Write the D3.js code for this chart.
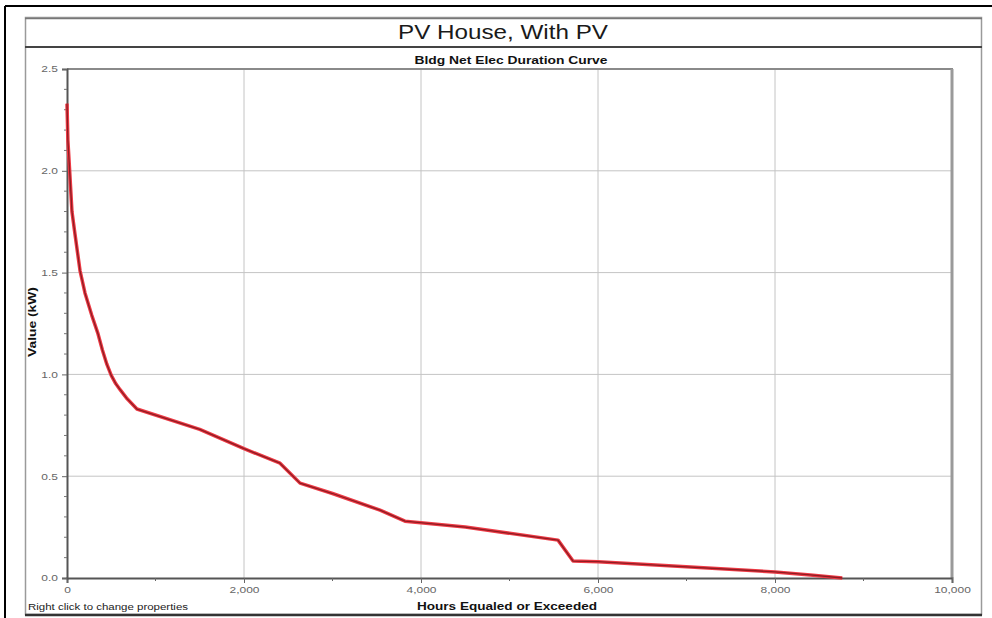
<!DOCTYPE html>
<html><head><meta charset="utf-8">
<script src="https://cdn.jsdelivr.net/npm/d3@7"></script>
<style>body{margin:0;background:#fff}svg{display:block}</style>
</head><body>
<svg id="c" width="992" height="618"></svg>
<script>
const title = "PV House, With PV";
const subtitle = "Bldg Net Elec Duration Curve";
const xTitle = "Hours Equaled or Exceeded";
const yTitle = "Value (kW)";
const footNote = "Right click to change properties";
const hours = [0, 10, 30, 56, 90, 147, 203, 280, 350, 400, 450, 500, 550, 600, 680, 790, 1500, 2000, 2407, 2633, 3000, 3537, 3819, 4500, 5548, 5718, 6000, 6800, 8000, 8400, 8760];
const kw    = [2.33, 2.15, 2.0, 1.80, 1.69, 1.51, 1.40, 1.29, 1.20, 1.12, 1.05, 0.995, 0.955, 0.925, 0.88, 0.83, 0.73, 0.635, 0.564, 0.466, 0.415, 0.333, 0.279, 0.25, 0.186, 0.083, 0.08, 0.06, 0.03, 0.015, 0.0];
const xTicks = [0, 2000, 4000, 6000, 8000, 10000];
const yTicks = [0, 0.5, 1.0, 1.5, 2.0, 2.5];

const svg = d3.select("#c");
const sans = "'Liberation Sans',Arial,sans-serif";

function stretch(sel, w){
  sel.each(function(){
    const len = this.getComputedTextLength();
    const target = w == null ? len*1.33 : w;
    this.setAttribute("textLength", target);
    this.setAttribute("lengthAdjust","spacingAndGlyphs");
  });
}

// outer frame
svg.append("line").attr("x1",5).attr("x2",992).attr("y1",6).attr("y2",6).attr("stroke","#000").attr("stroke-width",2);
svg.append("line").attr("x1",5).attr("x2",5).attr("y1",6).attr("y2",618).attr("stroke","#000").attr("stroke-width",2);
// panel
svg.append("rect").attr("x",25.5).attr("y",17.5).attr("width",956).attr("height",597).attr("fill","#fff").attr("stroke","#9a9a9a").attr("stroke-width",1.5);
svg.append("line").attr("x1",25).attr("x2",982).attr("y1",47).attr("y2",47).attr("stroke","#444").attr("stroke-width",2);
svg.append("line").attr("x1",25).attr("x2",982).attr("y1",615).attr("y2",615).attr("stroke","#333").attr("stroke-width",2.5);
svg.append("line").attr("x1",25).attr("x2",982).attr("y1",18.5).attr("y2",18.5).attr("stroke","#777").attr("stroke-width",1.5);

svg.append("text").attr("x",503).attr("y",39).attr("text-anchor","middle")
  .attr("font-family",sans).attr("font-size",20).attr("fill","#1a1a1a").text(title).call(stretch,210);
svg.append("text").attr("x",511).attr("y",64).attr("text-anchor","middle")
  .attr("font-family",sans).attr("font-weight","bold").attr("font-size",11).attr("fill","#111").text(subtitle).call(stretch,193);

const x = d3.scaleLinear().domain([0,10000]).range([67,952]);
const y = d3.scaleLinear().domain([0,2.5]).range([578,69]);

// grid
svg.append("g").selectAll("line").data(xTicks.slice(1)).join("line")
  .attr("x1",d=>x(d)).attr("x2",d=>x(d)).attr("y1",y(2.5)).attr("y2",y(0))
  .attr("stroke","#c4c4c4").attr("stroke-width",1);
svg.append("g").selectAll("line").data(yTicks.slice(1)).join("line")
  .attr("x1",x(0)).attr("x2",x(10000)).attr("y1",d=>y(d)).attr("y2",d=>y(d))
  .attr("stroke","#c4c4c4").attr("stroke-width",1);
// frame top/right
svg.append("line").attr("x1",x(0)).attr("x2",x(10000)+1).attr("y1",y(2.5)).attr("y2",y(2.5)).attr("stroke","#8a8a8a").attr("stroke-width",2);
svg.append("line").attr("x1",x(10000)).attr("x2",x(10000)).attr("y1",y(2.5)).attr("y2",y(0)).attr("stroke","#9a9a9a").attr("stroke-width",3);

// axes
const xAxis = d3.axisBottom(x).tickValues(xTicks).tickFormat(d3.format(",")).tickSize(5).tickPadding(4);
const gx = svg.append("g").attr("transform",`translate(0,${y(0)})`).call(xAxis);
const yAxis = d3.axisLeft(y).tickValues(yTicks).tickFormat(d3.format(".1f")).tickSize(5).tickPadding(4);
const gy = svg.append("g").attr("transform",`translate(${x(0)},0)`).call(yAxis);
[gx,gy].forEach(g=>{
  g.select(".domain").attr("stroke","#555").attr("stroke-width",2);
  g.selectAll(".tick line").attr("stroke","#666");
  g.selectAll(".tick text").attr("font-family",sans).attr("font-size",9).attr("fill","#666").call(stretch,null);
});
// minor ticks
const xMinor = d3.range(1000,10000,2000);
svg.append("g").selectAll("line").data(xMinor).join("line")
  .attr("x1",d=>x(d)).attr("x2",d=>x(d)).attr("y1",y(0)).attr("y2",y(0)+3).attr("stroke","#666");
const yMinor = d3.range(0,25).filter(i=>i%5!==0).map(i=>i/10);
svg.append("g").selectAll("line").data(yMinor).join("line")
  .attr("x1",x(0)-3).attr("x2",x(0)).attr("y1",d=>y(d)).attr("y2",d=>y(d)).attr("stroke","#777");

// curve
const pts = hours.map((h,i)=>[h,kw[i]]);
const line = d3.line().x(d=>x(d[0])).y(d=>y(d[1]));
svg.append("path").datum(pts).attr("d",line).attr("fill","none").attr("stroke","#ee3a45").attr("stroke-width",3.5).attr("stroke-linejoin","round");
svg.append("path").datum(pts).attr("d",line).attr("fill","none").attr("stroke","#8e1c22").attr("stroke-width",1.3).attr("stroke-linejoin","round");

// axis titles
svg.append("text").attr("transform","translate(36,322) rotate(-90)").attr("text-anchor","middle")
  .attr("font-family",sans).attr("font-weight","bold").attr("font-size",10.5).attr("fill","#111").text(yTitle).call(stretch,70);
svg.append("text").attr("x",507).attr("y",610).attr("text-anchor","middle")
  .attr("font-family",sans).attr("font-weight","bold").attr("font-size",10.5).attr("fill","#111").text(xTitle).call(stretch,180);
svg.append("text").attr("x",28).attr("y",610)
  .attr("font-family",sans).attr("font-size",8.5).attr("fill","#222").text(footNote).call(stretch,160);
</script>
</body></html>
